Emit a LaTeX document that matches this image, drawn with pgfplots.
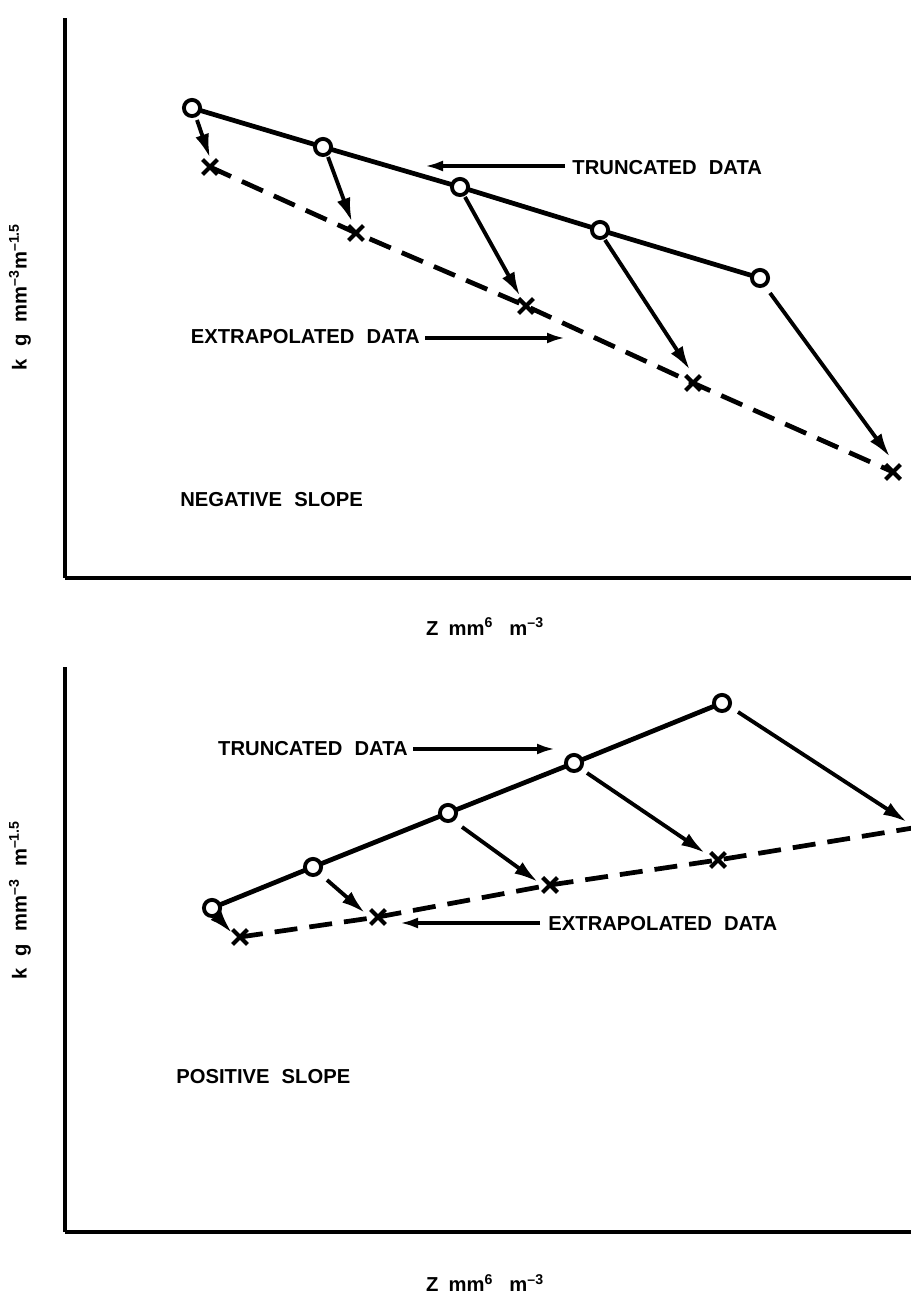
\documentclass[border=0pt]{standalone}
\usepackage{fontspec}
\setmainfont{Liberation Sans}
\usepackage{pgfplots}
\pgfplotsset{compat=1.18}
\usetikzlibrary{arrows.meta}
\newcommand\lab[1]{{\fontsize{11.5}{13}\selectfont\bfseries #1}}
\newcommand\supr[1]{\textsuperscript{#1}}
\begin{document}
\begin{tikzpicture}
\useasboundingbox (0,0) rectangle (18.22cm,25.92cm);
\pgfplotsset{
 panel/.style={scale only axis, width=16.92cm, xmin=65, xmax=911, axis lines=left,
   axis line style={-, line width=2.4pt}, ticks=none, anchor=south west, clip=true},
 trunc/.style={black, line width=2.7pt, mark=*, mark size=4.6pt,
   mark options={solid, fill=white, line width=2.2pt}},
 extr/.style={black, line width=2.7pt, dash pattern=on 0.46cm off 0.24cm, mark=x, mark size=6pt,
   mark options={solid, line width=2.4pt}},
 arr/.style={black, line width=2.2pt, -{Latex[length=0.48cm,width=0.28cm]}, no markers},
 larr/.style={black, line width=1.9pt, -{Latex[length=0.36cm,width=0.22cm]}, no markers},
}
% ---------- top panel: negative slope ----------
\begin{axis}[panel, at={(1.3cm,14.36cm)}, height=11.2cm, ymin=718, ymax=1278]
\addplot[extr] coordinates {(210,1129) (356,1063) (526,990) (693,913) (893,824)};
\addplot[trunc] coordinates {(192,1188) (323,1149) (460,1109) (600,1066) (760,1018)};
\addplot[arr] coordinates {(197,1176) (210,1138)};
\addplot[arr] coordinates {(328,1139) (352,1074)};
\addplot[arr] coordinates {(465,1099) (520,1000)};
\addplot[arr] coordinates {(605,1056) (690,926)};
\addplot[arr] coordinates {(770,1003) (890,839)};
\addplot[larr] coordinates {(565,1130) (425,1130)};
\addplot[larr] coordinates {(425,958) (565,958)};
\end{axis}
% ---------- bottom panel: positive slope ----------
\begin{axis}[panel, at={(1.3cm,1.28cm)}, height=11.3cm, ymin=64, ymax=629]
\addplot[extr] coordinates {(240,359) (378,379) (550,411) (718,436) (925,470)};
\addplot[trunc] coordinates {(212,388) (313,429) (448,483) (574,533) (722,593)};
\addplot[arr] coordinates {(222,374) (232,363)};
\addplot[arr] coordinates {(327,416) (365,383)};
\addplot[arr] coordinates {(462,469) (538,414)};
\addplot[arr] coordinates {(587,523) (705,443)};
\addplot[arr] coordinates {(738,584) (907,474)};
\addplot[larr] coordinates {(413,547) (555,547)};
\addplot[larr] coordinates {(540,373) (400,373)};
\end{axis}
% ---------- texts ----------
\begin{scope}[x=0.02cm, y=0.02cm]
\node[anchor=west, inner sep=0] at (572,1128) {\lab{TRUNCATED\hspace{0.6em}DATA}};
\node[anchor=east, inner sep=0] at (420,959) {\lab{EXTRAPOLATED\hspace{0.6em}DATA}};
\node[anchor=west, inner sep=0] at (180,796) {\lab{NEGATIVE\hspace{0.6em}SLOPE}};
\node[anchor=east, inner sep=0] at (408,547) {\lab{TRUNCATED\hspace{0.6em}DATA}};
\node[anchor=west, inner sep=0] at (548,372) {\lab{EXTRAPOLATED\hspace{0.6em}DATA}};
\node[anchor=west, inner sep=0] at (176,219) {\lab{POSITIVE\hspace{0.6em}SLOPE}};
\node[rotate=90, inner sep=0] at (20,999) {\lab{k\hspace{0.6em}g\hspace{0.6em}mm\supr{--3}m\supr{--1.5}}};
\node[rotate=90, inner sep=0] at (20,396) {\lab{k\hspace{0.6em}g\hspace{0.6em}mm\supr{--3}\hspace{0.6em}m\supr{--1.5}}};
\node[inner sep=0] at (485,669) {\lab{Z\hspace{0.5em}mm\supr{6}\hspace{0.8em}m\supr{--3}}};
\node[inner sep=0] at (485,13) {\lab{Z\hspace{0.5em}mm\supr{6}\hspace{0.8em}m\supr{--3}}};
\end{scope}
\end{tikzpicture}
\end{document}
